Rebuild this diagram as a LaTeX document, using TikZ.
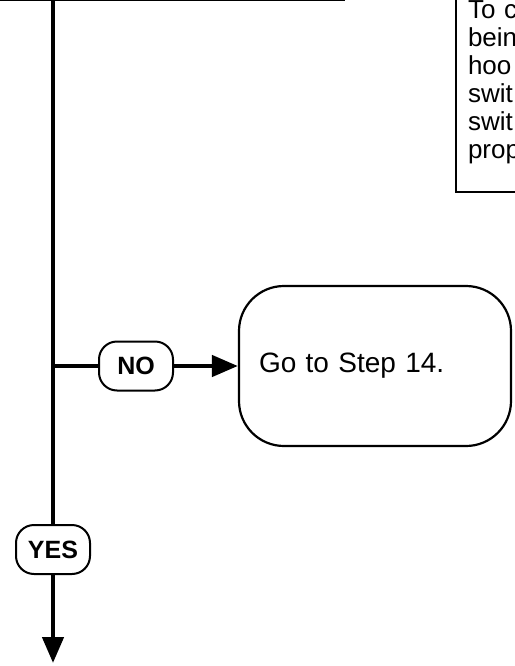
\documentclass[tikz,border=0pt]{standalone}
\usepackage{fontspec}
\setmainfont{Liberation Sans}
\usetikzlibrary{arrows.meta,positioning}

\begin{document}
\begin{tikzpicture}[
    x=1pt, y=-1pt,
    block/.style={rectangle, draw, line width=2pt},
    stepbox/.style={rectangle, draw, line width=2.2pt, rounded corners=45pt,
                    minimum width=272pt, minimum height=160pt, align=left,
                    text width=232pt, inner xsep=18pt,
                    font=\fontsize{28}{32}\selectfont},
    notebox/.style={rectangle, draw, line width=2pt, align=left,
                    text width=90pt, inner xsep=12pt, inner ysep=28pt,
                    font=\fontsize{26}{28}\selectfont},
    answer/.style={rectangle, draw, line width=2pt, rounded corners=18pt,
                   minimum width=74pt, minimum height=49pt, inner sep=0pt,
                   font=\fontsize{25}{28}\selectfont\bfseries},
    trunk/.style={line width=4.5pt},
    line/.style={-{Triangle[length=26pt, width=21pt]}, line width=4.5pt}
]
  \useasboundingbox (0,0) rectangle (514,666);

  \node[block, minimum width=363pt, minimum height=60pt, anchor=south west]
    (prev) at (-20,1.5) {};
  \node[notebox, anchor=north west] (note) at (455,-28)
    {To c\\bein\\hoo\\swit\\swit\\prop};
  \node[answer] (no) at (136,366) {NO};
  \node[stepbox] (go) at (375,366) {Go to Step 14.};
  \node[answer] (yes) at (53,549.5) {YES};
  \coordinate (end) at (53,663);

  \draw[trunk] (prev.south -| yes) -- (yes.north);
  \draw[trunk] (yes.north |- no) -- (no.west);
  \draw[line] (no) -- (go);
  \draw[line] (yes) -- (end);
\end{tikzpicture}
\end{document}
